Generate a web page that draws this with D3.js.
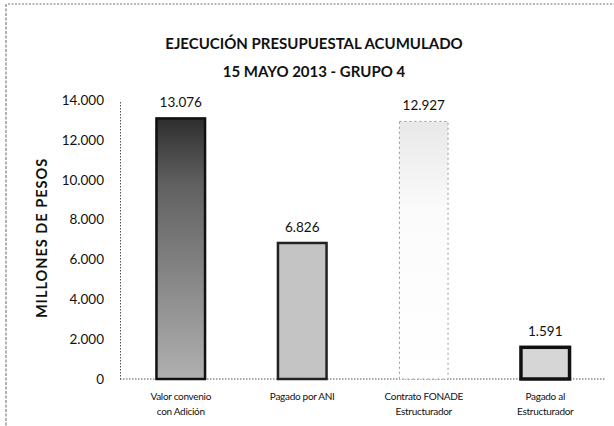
<!DOCTYPE html>
<html><head><meta charset="utf-8">
<script src="https://cdn.jsdelivr.net/npm/d3@7"></script>
<style>body{margin:0;background:#fff}svg{display:block}</style>
</head><body>
<script>
const categories = [["Valor convenio","con Adición"],["Pagado por ANI"],["Contrato FONADE","Estructurador"],["Pagado al","Estructurador"]];
const values = [13076, 6826, 12927, 1591];
const valueLabels = ["13.076","6.826","12.927","1.591"];
const tickValues = [0,2000,4000,6000,8000,10000,12000,14000];
const tickLabels = ["0","2.000","4.000","6.000","8.000","10.000","12.000","14.000"];
const title = ["EJECUCIÓN PRESUPUESTAL ACUMULADO","15 MAYO 2013 - GRUPO 4"];
const yTitle = "MILLONES DE PESOS";

const W=614,H=426;
const svg=d3.select("body").append("svg").attr("width",W).attr("height",H);
const defs=svg.append("defs");
const g1=defs.append("linearGradient").attr("id","g1").attr("x1",0).attr("y1",0).attr("x2",0).attr("y2",1);
g1.append("stop").attr("offset","0%").attr("stop-color","#2e2e2e");
g1.append("stop").attr("offset","25%").attr("stop-color","#606060");
g1.append("stop").attr("offset","100%").attr("stop-color","#b0b0b0");
const g3=defs.append("linearGradient").attr("id","g3").attr("x1",0).attr("y1",0).attr("x2",0).attr("y2",1);
g3.append("stop").attr("offset","0%").attr("stop-color","#e8e8e8");
g3.append("stop").attr("offset","35%").attr("stop-color","#fbfbfb");
g3.append("stop").attr("offset","100%").attr("stop-color","#ffffff");
const fills=["url(#g1)","#c4c4c4","url(#g3)","#d6d6d6"];
const strokes=["#111","#222","#999","#111"];
const sw=[2.5,2.5,1,3.5];

// frame
svg.append("line").attr("x1",8).attr("y1",4).attr("x2",614).attr("y2",4).attr("stroke","#777").attr("stroke-dasharray","2,1.5");
svg.append("line").attr("x1",6).attr("y1",4).attr("x2",6).attr("y2",426).attr("stroke","#666").attr("stroke-dasharray","3,1.5");

const x=d3.scaleBand().domain(d3.range(categories.length)).range([120,606]).paddingInner(0.6).paddingOuter(0.3);
const y=d3.scaleLinear().domain([0,14000]).range([379,100]);

svg.selectAll("text.t").data(title).join("text").attr("class","t")
 .attr("x",314).attr("y",(d,i)=>49+i*28).attr("text-anchor","middle")
 .style("font-family","Lato, sans-serif").style("font-weight","bold").style("font-size","15px").attr("fill","#111").text(d=>d);

svg.append("text").attr("transform","translate(47,238) rotate(-90)").attr("text-anchor","middle")
 .style("font-family","Lato, sans-serif").style("font-weight","bold").style("font-size","14.5px").style("letter-spacing","1px").attr("fill","#111").text(yTitle);

const ax=svg.append("g").attr("transform","translate(120,0)")
 .call(d3.axisLeft(y).tickValues(tickValues).tickFormat((d,i)=>tickLabels[i]).tickSize(0).tickPadding(16));
ax.select(".domain").attr("stroke","#555").attr("stroke-dasharray","1.5,1.5");
ax.selectAll("text").style("font-family","Lato, sans-serif").style("font-size","13.5px").attr("fill","#111");

svg.append("line").attr("x1",120).attr("x2",606).attr("y1",y(0)).attr("y2",y(0)).attr("stroke","#555").attr("stroke-dasharray","1.5,1.5");

svg.selectAll("rect.b").data(values).join("rect").attr("class","b")
 .attr("x",(d,i)=>x(i)).attr("width",x.bandwidth()).attr("y",d=>y(d)).attr("height",d=>y(0)-y(d))
 .attr("fill",(d,i)=>fills[i]).attr("stroke",(d,i)=>strokes[i]).attr("stroke-width",(d,i)=>sw[i])
 .attr("stroke-dasharray",(d,i)=>i==2?"2,3":null);

svg.selectAll("text.v").data(values).join("text").attr("class","v")
 .attr("x",(d,i)=>x(i)+x.bandwidth()/2).attr("y",d=>y(d)-11).attr("text-anchor","middle")
 .style("font-family","Lato, sans-serif").style("font-size","13.5px").attr("fill","#111").text((d,i)=>valueLabels[i]);

const cl=svg.selectAll("text.c").data(categories).join("text").attr("class","c")
 .attr("text-anchor","middle").style("font-family","Lato, sans-serif").style("font-size","10px").style("letter-spacing","-0.3px").attr("fill","#111");
cl.each(function(d,i){
  d3.select(this).selectAll("tspan").data(d).join("tspan")
   .attr("x",x(i)+x.bandwidth()/2).attr("y",(t,j)=>400+j*15).text(t=>t);
});
</script>
</body></html>
